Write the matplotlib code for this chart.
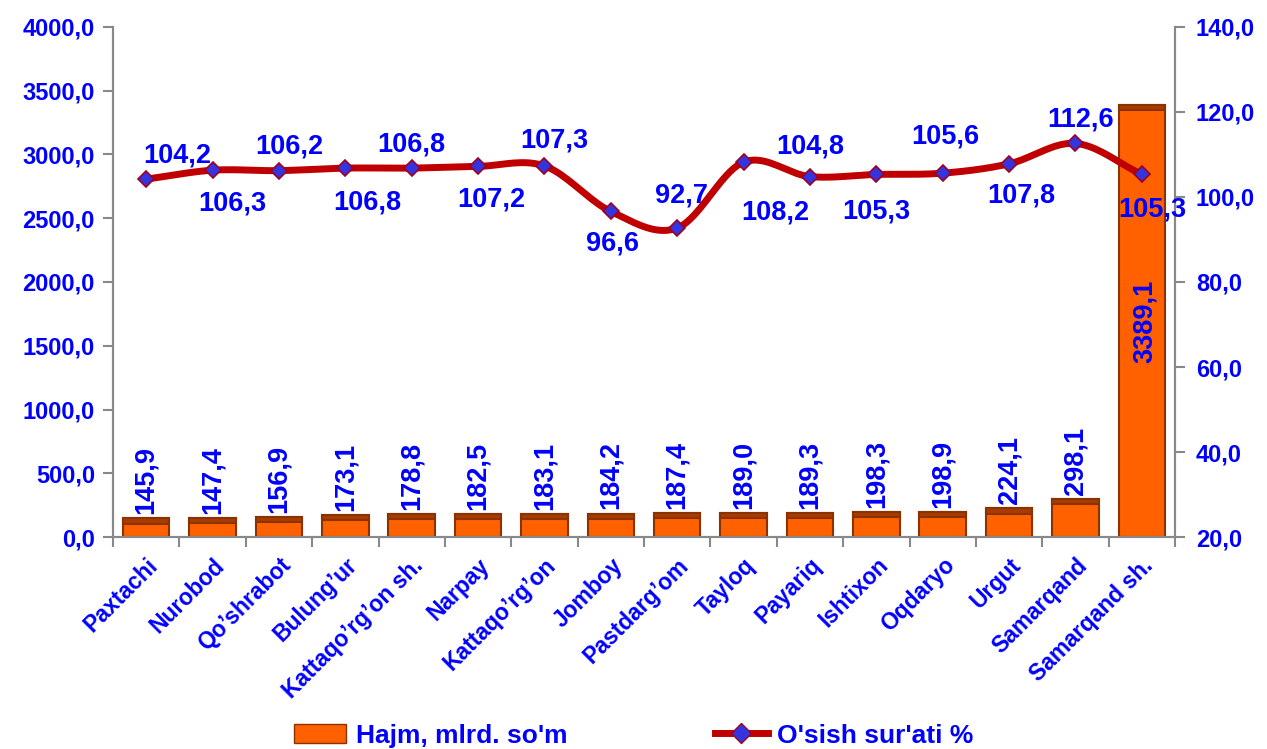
import numpy as np
import matplotlib
matplotlib.use("Agg")
import matplotlib.pyplot as plt
from matplotlib.lines import Line2D
from matplotlib.patches import Patch

plt.rcParams['font.family'] = ['Liberation Sans', 'DejaVu Sans']
plt.rcParams['font.weight'] = 'bold'

districts = ["Paxtachi", "Nurobod", "Qo\u2019shrabot", "Bulung\u2019ur", "Kattaqo\u2019rg\u2019on sh.",
             "Narpay", "Kattaqo\u2019rg\u2019on", "Jomboy", "Pastdarg\u2019om", "Tayloq", "Payariq",
             "Ishtixon", "Oqdaryo", "Urgut", "Samarqand", "Samarqand sh."]
volume = [145.9, 147.4, 156.9, 173.1, 178.8, 182.5, 183.1, 184.2, 187.4, 189.0,
          189.3, 198.3, 198.9, 224.1, 298.1, 3389.1]
growth = [104.2, 106.3, 106.2, 106.8, 106.8, 107.2, 107.3, 96.6, 92.7, 108.2,
          104.8, 105.3, 105.6, 107.8, 112.6, 105.3]

# where each growth label sits relative to its marker (pixels, right / up)
label_shift = [(31, 24), (20, -33), (10, 24), (22, -34), (0, 24), (13, -33), (10, 25), (2, -32),
               (4, 33), (32, -50), (0, 30), (0, -37), (3, 37), (12, -32), (5, 24), (10, -35)]

blue = '#0000ff'
grey = '#888888'

def fmt(v):
    return f"{v:.1f}".replace('.', ',')

def smooth(xs, ys, n=20):
    # catmull-rom through the points, like excel's smoothed line
    xs = np.asarray(xs, float)
    ys = np.asarray(ys, float)
    px = np.concatenate([[2 * xs[0] - xs[1]], xs, [2 * xs[-1] - xs[-2]]])
    py = np.concatenate([[2 * ys[0] - ys[1]], ys, [2 * ys[-1] - ys[-2]]])
    ox, oy = [], []
    t = np.linspace(0, 1, n, endpoint=False)
    for i in range(1, len(px) - 2):
        for p, o in ((px, ox), (py, oy)):
            p0, p1, p2, p3 = p[i - 1], p[i], p[i + 1], p[i + 2]
            o.extend(0.5 * (2 * p1 + (-p0 + p2) * t + (2 * p0 - 5 * p1 + 4 * p2 - p3) * t ** 2
                            + (-p0 + 3 * p1 - 3 * p2 + p3) * t ** 3))
    ox.append(xs[-1])
    oy.append(ys[-1])
    return np.array(ox), np.array(oy)

fig = plt.figure(figsize=(12.67, 7.49), dpi=100)
ax = fig.add_axes([0.0892, 0.283, 0.8382, 0.681])
ax2 = ax.twinx()

x = np.arange(len(districts))
ax.bar(x, volume, width=0.7, color='#ff6000', edgecolor='#8a3300', linewidth=1.5, zorder=2)
# darker bevel on top of each bar
top = [min(v * 0.35, 40) for v in volume]
ax.bar(x, top, bottom=np.array(volume) - np.array(top), width=0.7, color='#a83c00',
       edgecolor='#8a3300', linewidth=1.5, zorder=3)

for xi, v in zip(x, volume):
    if v > 1000:
        ax.text(xi + 0.05, v / 2, fmt(v), rotation=90, ha='center', va='center', color=blue,
                fontsize=19.5, fontweight='bold', zorder=4)
    else:
        ax.annotate(fmt(v), (xi, v), xytext=(0, 3), textcoords='offset points', rotation=90,
                    ha='center', va='bottom', color=blue, fontsize=19.5, fontweight='bold')

ax.set_xlim(-0.5, len(districts) - 0.5)
ax.set_ylim(0, 4000)
ax.set_yticks(np.arange(0, 4001, 500))
ax.set_yticklabels([fmt(v) for v in np.arange(0, 4001, 500)])
ax.set_xticks(x)
ax.set_xticklabels(districts, rotation=45, ha='right', rotation_mode='anchor')
ax.set_xticks(np.arange(-0.5, len(districts)), minor=True)
ax.tick_params(axis='x', which='major', length=0, pad=12, labelsize=16.5, labelcolor=blue)
ax.tick_params(axis='x', which='minor', length=7, color=grey, width=1.5)
ax.tick_params(axis='y', length=7, color=grey, width=1.5, labelsize=17, labelcolor=blue, pad=6)
for lbl in ax.get_xticklabels() + ax.get_yticklabels():
    lbl.set_fontweight('bold')

sx, sy = smooth(x, growth)
ax2.plot(sx, sy, color='#c00000', linewidth=5, solid_capstyle='round', zorder=5)
ax2.plot(x, growth, linestyle='none', marker='D', markersize=8, markerfacecolor='#3434e0',
         markeredgecolor='#a00020', markeredgewidth=1.2, zorder=6)
for xi, g, (dx, dy) in zip(x, growth, label_shift):
    ax2.annotate(fmt(g), (xi, g), xytext=(dx, dy), textcoords='offset pixels',
                 ha='center', va='center', color=blue, fontsize=19.5, fontweight='bold', zorder=7)

ax2.set_ylim(20, 140)
ax2.set_yticks(np.arange(20, 141, 20))
ax2.set_yticklabels([fmt(v) for v in np.arange(20, 141, 20)])
ax2.tick_params(axis='y', length=7, color=grey, width=1.5, labelsize=17, labelcolor=blue, pad=8)
for lbl in ax2.get_yticklabels():
    lbl.set_fontweight('bold')

for a in (ax, ax2):
    a.spines['top'].set_visible(False)
    for side in ('left', 'right', 'bottom'):
        a.spines[side].set_color(grey)
        a.spines[side].set_linewidth(1.5)

handles = [Patch(facecolor='#ff6000', edgecolor='#8a3300', label="Hajm, mlrd. so'm"),
           Line2D([], [], color='#c00000', linewidth=5, marker='D', markersize=10,
                  markerfacecolor='#3434e0', markeredgecolor='#a00020', label="O'sish sur'ati %")]
leg = fig.legend(handles=handles, loc='lower center', bbox_to_anchor=(0.5, -0.03), ncol=2,
                 frameon=False, columnspacing=5.6, handlelength=2.0, handletextpad=0.35,
                 prop={'size': 19, 'weight': 'bold'})
for t in leg.get_texts():
    t.set_color(blue)

fig.savefig('out.png', dpi=100)
